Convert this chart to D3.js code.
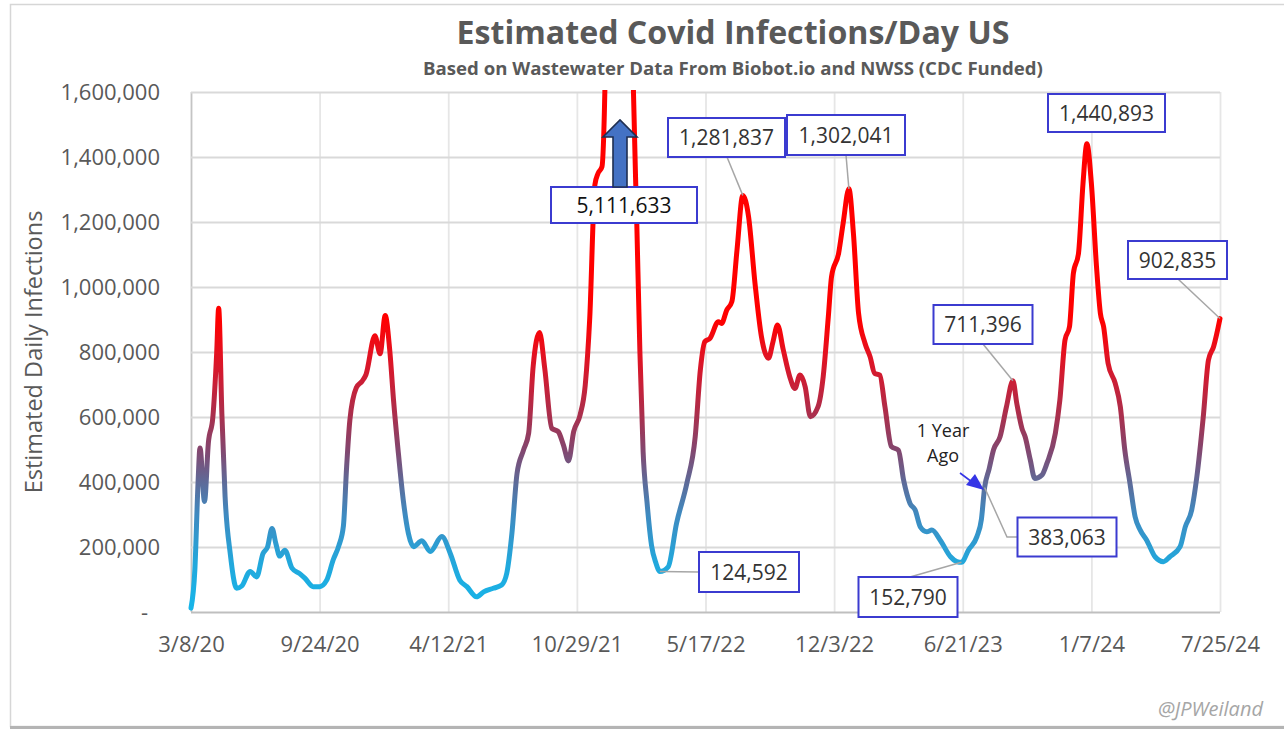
<!DOCTYPE html>
<html>
<head>
<meta charset="utf-8">
<script src="https://cdn.jsdelivr.net/npm/d3@7"></script>
<style>
  body { margin: 0; background: #fff; }
  svg { display: block; }
  text { font-family: "Open Sans", "Noto Sans", sans-serif; }
</style>
</head>
<body>
<svg id="chart" width="1284" height="729"></svg>
<script>
// Estimated daily infections (wastewater based), sampled at the turning points of the series
const sampleDates = [
  "2020-03-08","2020-03-14","2020-03-19","2020-03-22","2020-03-29","2020-04-04","2020-04-11","2020-04-17","2020-04-20","2020-04-25",
  "2020-04-30","2020-05-08","2020-05-18","2020-05-26","2020-06-08","2020-06-18","2020-06-28","2020-07-05","2020-07-12","2020-07-18",
  "2020-07-24","2020-08-01","2020-08-12","2020-08-24","2020-09-01","2020-09-14","2020-09-24","2020-10-05","2020-10-15","2020-10-24",
  "2020-10-31","2020-11-05","2020-11-10","2020-11-20","2020-11-29","2020-12-05","2020-12-19","2020-12-27","2021-01-04","2021-01-11",
  "2021-01-17","2021-01-24","2021-02-01","2021-02-09","2021-02-17","2021-03-02","2021-03-15","2021-04-02","2021-04-15","2021-04-30",
  "2021-05-11","2021-05-26","2021-06-06","2021-06-21","2021-07-04","2021-07-12","2021-07-20","2021-07-28","2021-08-07","2021-08-15",
  "2021-08-22","2021-09-01","2021-09-09","2021-09-20","2021-09-30","2021-10-08","2021-10-16","2021-10-24","2021-11-03","2021-11-11",
  "2021-11-18","2021-11-26","2021-12-01","2021-12-07","2021-12-12","2021-12-20","2021-12-27","2022-01-03","2022-01-10","2022-01-17",
  "2022-01-25","2022-01-30","2022-02-04","2022-02-09","2022-02-15","2022-02-22","2022-03-01","2022-03-07","2022-03-20","2022-04-02",
  "2022-04-18","2022-05-01","2022-05-09","2022-05-16","2022-05-24","2022-06-06","2022-06-11","2022-06-19","2022-06-27","2022-07-05",
  "2022-07-14","2022-07-23","2022-08-02","2022-08-12","2022-08-23","2022-08-30","2022-09-06","2022-09-15","2022-09-25","2022-10-03",
  "2022-10-11","2022-10-19","2022-10-27","2022-11-08","2022-11-16","2022-11-24","2022-11-29","2022-12-10","2022-12-17","2022-12-26",
  "2023-01-02","2023-01-10","2023-01-20","2023-01-28","2023-02-04","2023-02-12","2023-02-20","2023-03-02","2023-03-13","2023-03-21",
  "2023-03-31","2023-04-08","2023-04-16","2023-04-26","2023-05-04","2023-05-17","2023-06-02","2023-06-12","2023-06-19","2023-06-30",
  "2023-07-13","2023-07-20","2023-07-25","2023-08-01","2023-08-08","2023-08-18","2023-08-28","2023-09-07","2023-09-13","2023-09-21",
  "2023-09-26","2023-10-04","2023-10-11","2023-10-22","2023-10-30","2023-11-12","2023-11-19","2023-11-27","2023-12-04","2023-12-10",
  "2023-12-18","2023-12-25","2023-12-31","2024-01-07","2024-01-15","2024-01-21","2024-01-26","2024-02-02","2024-02-13","2024-02-21",
  "2024-02-28","2024-03-07","2024-03-15","2024-03-23","2024-04-02","2024-04-15","2024-04-28","2024-05-08","2024-05-24","2024-06-01",
  "2024-06-11","2024-06-19","2024-06-29","2024-07-07","2024-07-15","2024-07-25"
];
const dailyInfections = [
  12000, 130000, 400000, 505000, 340000, 520000, 600000, 800000, 935000, 610000,
  355000, 180000, 73000, 80000, 125000, 108000, 180000, 200000, 257000, 210000,
  172000, 190000, 135000, 118000, 104000, 78000, 78000, 98000, 160000, 205000,
  265000, 447000, 590000, 690000, 710000, 730000, 850000, 795000, 912000, 806000,
  650000, 498000, 345000, 242000, 201000, 219000, 186000, 232000, 181000, 98000,
  78000, 47000, 62000, 73000, 83000, 119000, 242000, 427000, 498000, 550000,
  755000, 860000, 750000, 565000, 555000, 514000, 465000, 555000, 606000, 698000,
  904000, 1314000, 1350000, 1370000, 1650000, 3000000, 4500000, 5111633, 4300000, 2800000,
  1600000, 1210000, 800000, 493000, 339000, 206000, 150000, 124592, 139000, 273000,
  396000, 539000, 745000, 832000, 842000, 893000, 888000, 929000, 955000, 1114000,
  1281837, 1216000, 1011000, 847000, 781000, 832000, 883000, 806000, 724000, 688000,
  729000, 693000, 601000, 632000, 724000, 909000, 1032000, 1104000, 1196000, 1302041,
  1165000, 919000, 827000, 785000, 734000, 729000, 632000, 509000, 498000, 406000,
  334000, 314000, 262000, 247000, 252000, 221000, 170000, 155000, 152790, 191000,
  232000, 285000, 383063, 440000, 500000, 539000, 632000, 711396, 642000, 565000,
  539000, 468000, 411000, 421000, 458000, 550000, 652000, 837000, 878000, 1042000,
  1104000, 1319000, 1440893, 1319000, 1062000, 919000, 878000, 765000, 704000, 632000,
  498000, 396000, 293000, 252000, 221000, 170000, 155000, 170000, 201000, 262000,
  314000, 416000, 601000, 775000, 816000, 902835
];

// Axis ticks
const xTickLabels = ["3/8/20", "9/24/20", "4/12/21", "10/29/21", "5/17/22", "12/3/22", "6/21/23", "1/7/24", "7/25/24"];
const yTickValues = [0, 200000, 400000, 600000, 800000, 1000000, 1200000, 1400000, 1600000];

// Called-out points (value is looked up in the series)
const calloutDates = ["2022-01-03", "2022-07-14", "2022-12-26", "2023-12-31", "2024-07-25", "2023-09-07", "2023-07-25", "2023-06-19", "2022-03-07"];

const titleText = "Estimated Covid Infections/Day US";
const subtitleText = "Based on Wastewater Data From Biobot.io and NWSS (CDC Funded)";
const yAxisTitle = "Estimated Daily Infections";
const yearAgoLines = ["1 Year", "Ago"];
const creditText = "@JPWeiland";

const parseISO = d3.timeParse("%Y-%m-%d");
const parseTick = d3.timeParse("%m/%d/%y");
const series = sampleDates.map((d, i) => ({ date: parseISO(d), value: dailyInfections[i] }));
const byDate = new Map(sampleDates.map((d, i) => [d, dailyInfections[i]]));

const svg = d3.select("#chart");
const W = 1284, H = 729;
const plot = { left: 191, top: 92, right: 1220, bottom: 612 };

// Outer frame
svg.append("rect").attr("x", 10.5).attr("y", 4.5).attr("width", 1300).attr("height", 722)
  .attr("fill", "#fff").attr("stroke", "#d6d6d6").attr("stroke-width", 1.5);
svg.append("line").attr("x1", 10).attr("x2", W).attr("y1", 727.5).attr("y2", 727.5)
  .attr("stroke", "#b4b4b4").attr("stroke-width", 3);

const xTickDates = xTickLabels.map(parseTick);
const x = d3.scaleTime().domain([xTickDates[0], xTickDates[xTickDates.length - 1]]).range([plot.left, plot.right]);
const y = d3.scaleLinear().domain([0, 1600000]).range([plot.bottom, plot.top]);

// Vertical grid + date labels
const xAxis = d3.axisBottom(x).tickValues(xTickDates)
  .tickFormat((d, i) => xTickLabels[i])
  .tickSize(-(plot.bottom - plot.top)).tickPadding(0);
const gx = svg.append("g").attr("transform", `translate(0,${plot.bottom})`).call(xAxis);
gx.select(".domain").remove();
gx.selectAll(".tick line").attr("stroke", (d, i) => i === 0 ? "#c4c4c4" : "#e6e6e6").attr("stroke-width", 1.8);
gx.selectAll(".tick text").attr("y", 40).attr("dy", null)
  .attr("fill", "#595959").style("font-size", "22px").style("font-family", "'Open Sans', sans-serif");

// Horizontal grid + value labels
const fmt = d3.format(",");
const yAxis = d3.axisLeft(y).tickValues(yTickValues)
  .tickFormat(v => v === 0 ? "-" : fmt(v))
  .tickSize(-(plot.right - plot.left)).tickPadding(31);
const gy = svg.append("g").attr("transform", `translate(${plot.left},0)`).call(yAxis);
gy.select(".domain").remove();
gy.selectAll(".tick line").attr("stroke", d => d === 0 ? "#bfbfbf" : "#d9d9d9").attr("stroke-width", 1.8);
gy.selectAll(".tick text").attr("fill", "#595959").attr("dy", "0.35em")
  .style("font-size", "22px").style("font-family", "'Open Sans', sans-serif");
gy.selectAll(".tick").filter(d => d === 0).select("text").attr("dx", -12);

// Axis title
svg.append("text").attr("transform", `translate(42,${(plot.top + plot.bottom) / 2}) rotate(-90)`)
  .attr("text-anchor", "middle").attr("fill", "#595959").style("font-size", "23.5px").text(yAxisTitle);

// Titles, fitted to their widths
function fit(sel, target) {
  const fs = parseFloat(sel.style("font-size"));
  const w = sel.node().getComputedTextLength();
  sel.style("font-size", (fs * target / w) + "px");
}
const title = svg.append("text").attr("x", 733).attr("y", 44).attr("text-anchor", "middle")
  .attr("fill", "#595959").style("font-weight", "700").style("font-size", "30px").text(titleText);
fit(title, 553);
const sub = svg.append("text").attr("x", 733).attr("y", 75).attr("text-anchor", "middle")
  .attr("fill", "#595959").style("font-weight", "700").style("font-size", "17px").text(subtitleText);
fit(sub, 620);

// Colour ramp by value: blue for low counts, red for high
const defs = svg.append("defs");
const grad = defs.append("linearGradient").attr("id", "lineGrad")
  .attr("gradientUnits", "userSpaceOnUse")
  .attr("x1", 0).attr("x2", 0).attr("y1", y(0)).attr("y2", y(1000000));
const rampStops = [
  [0, "#16b6ea"], [150000, "#22a8dc"], [300000, "#3f8ac0"], [400000, "#5e6a98"],
  [500000, "#84466e"], [600000, "#a8304e"], [700000, "#c82038"], [800000, "#e5101f"],
  [900000, "#ff0000"], [1000000, "#ff0000"]
];
grad.selectAll("stop").data(rampStops).join("stop")
  .attr("offset", d => d[0] / 1000000).attr("stop-color", d => d[1]);

defs.append("clipPath").attr("id", "plotClip").append("rect")
  .attr("x", plot.left - 10).attr("y", plot.top - 2)
  .attr("width", plot.right - plot.left + 20).attr("height", plot.bottom - plot.top + 12);

const line = d3.line().x(d => x(d.date)).y(d => y(d.value)).curve(d3.curveMonotoneX);
svg.append("path").datum(series).attr("clip-path", "url(#plotClip)")
  .attr("d", line).attr("fill", "none").attr("stroke", "url(#lineGrad)")
  .attr("stroke-width", 5).attr("stroke-linejoin", "round").attr("stroke-linecap", "round");

// Callout boxes: centre, size and leader elbows
const boxLayout = [
  { cx: 624, cy: 205, w: 146, h: 36, leader: null, color: "#111" },
  { cx: 726.5, cy: 137.5, w: 117, h: 39, leader: [[727, 157]], color: "#333" },
  { cx: 846, cy: 135, w: 118, h: 40, leader: [[846, 155]], color: "#333" },
  { cx: 1106.5, cy: 113, w: 117, h: 38, leader: null, color: "#333" },
  { cx: 1177.5, cy: 260, w: 99, h: 38, leader: [[1178, 279]], color: "#333" },
  { cx: 983, cy: 324.5, w: 99, h: 39, leader: [[983, 344]], color: "#333" },
  { cx: 1067, cy: 537, w: 99, h: 39, leader: [[1007, 537], [1018, 537]], color: "#333" },
  { cx: 908, cy: 597, w: 99, h: 40, leader: [[910, 577]], color: "#333" },
  { cx: 749, cy: 572, w: 100, h: 40, leader: [[699, 572]], color: "#333" }
];

const callouts = svg.append("g");
calloutDates.forEach((d, i) => {
  const v = byDate.get(d);
  const b = boxLayout[i];
  if (b.leader) {
    const pts = [[x(parseISO(d)), y(v)], ...b.leader];
    callouts.append("polyline").attr("points", pts.map(p => p.join(",")).join(" "))
      .attr("fill", "none").attr("stroke", "#a6a6a6").attr("stroke-width", 1.5);
  }
});
calloutDates.forEach((d, i) => {
  const v = byDate.get(d);
  const b = boxLayout[i];
  callouts.append("rect").attr("x", b.cx - b.w / 2).attr("y", b.cy - b.h / 2)
    .attr("width", b.w).attr("height", b.h)
    .attr("fill", "#fff").attr("stroke", "#3b3bd0").attr("stroke-width", 2);
  callouts.append("text").attr("x", b.cx).attr("y", b.cy).attr("dy", "0.36em")
    .attr("text-anchor", "middle").attr("fill", b.color).style("font-size", "21px").text(fmt(v));
});

// Upward block arrow: the peak runs off the top of the scale
const arrowPts = [[613, 187], [613, 137], [603, 137], [620, 120], [637, 137], [627, 137], [627, 187]];
svg.append("polygon").attr("points", arrowPts.map(p => p.join(",")).join(" "))
  .attr("fill", "#4472c4").attr("stroke", "#1f2f52").attr("stroke-width", 1.6).attr("stroke-linejoin", "miter");

// "1 Year Ago" note with its pointer
const note = svg.append("text").attr("text-anchor", "middle").attr("fill", "#222").style("font-size", "18px");
note.selectAll("tspan").data(yearAgoLines).join("tspan")
  .attr("x", 943).attr("y", (d, i) => 437 + i * 25).text(d => d);
svg.append("line").attr("x1", 960).attr("y1", 473).attr("x2", 972).attr("y2", 482)
  .attr("stroke", "#3535e6").attr("stroke-width", 1.6);
svg.append("polygon").attr("points", "966,485 975,474 984,490")
  .attr("fill", "#3535e6");

// Credit
svg.append("text").attr("x", 1263).attr("y", 716).attr("text-anchor", "end")
  .attr("fill", "#a6a6a6").style("font-style", "italic").style("font-size", "20px").text(creditText);
</script>
</body>
</html>
